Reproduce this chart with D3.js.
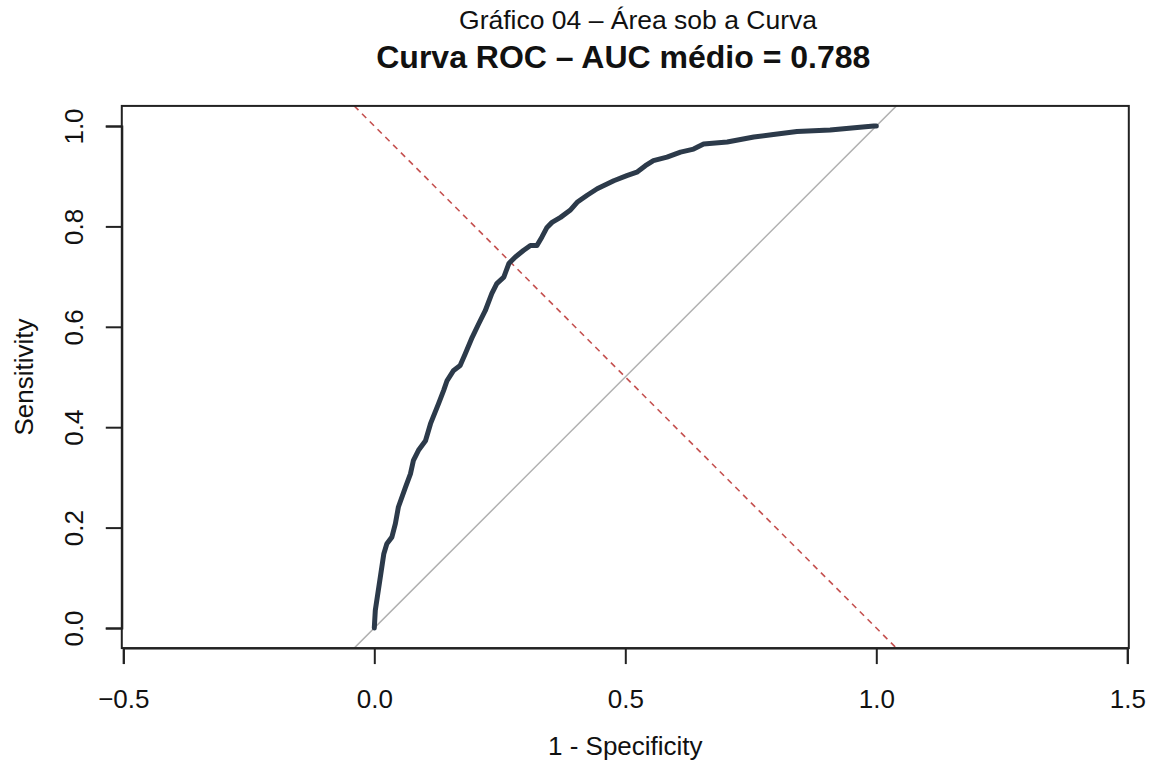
<!DOCTYPE html>
<html>
<head>
<meta charset="utf-8">
<script src="https://cdn.jsdelivr.net/npm/d3@7"></script>
<style>
  html, body { margin: 0; padding: 0; background: #fff; }
  svg { display: block; font-family: Arial, "Liberation Sans", sans-serif; }
</style>
</head>
<body>
<svg id="chart" width="1155" height="765"></svg>
<script>
// ---- data ----
const fpr = [0.000, 0.002, 0.011, 0.019, 0.025, 0.035, 0.042, 0.048, 0.062, 0.072, 0.078, 0.088, 0.102, 0.112, 0.128, 0.138,
             0.145, 0.158, 0.171, 0.181, 0.195, 0.208, 0.221, 0.234, 0.244, 0.258, 0.268, 0.281, 0.297, 0.311, 0.324, 0.334,
             0.344, 0.354, 0.371, 0.390, 0.404, 0.424, 0.444, 0.477, 0.503, 0.523, 0.540, 0.556, 0.583, 0.610, 0.636, 0.656,
             0.703, 0.756, 0.795, 0.842, 0.908, 0.962, 0.995, 1.000];
const tpr = [0.000, 0.035, 0.095, 0.148, 0.168, 0.181, 0.208, 0.241, 0.280, 0.307, 0.334, 0.354, 0.373, 0.407, 0.447, 0.473,
             0.493, 0.513, 0.523, 0.546, 0.579, 0.606, 0.632, 0.666, 0.686, 0.699, 0.726, 0.739, 0.752, 0.762, 0.762, 0.779,
             0.798, 0.808, 0.818, 0.832, 0.848, 0.862, 0.875, 0.891, 0.901, 0.908, 0.921, 0.931, 0.938, 0.948, 0.954, 0.964,
             0.968, 0.978, 0.983, 0.989, 0.992, 0.997, 1.000, 1.000];
const xTicks = [-0.5, 0.0, 0.5, 1.0, 1.5];
const yTicks = [0.0, 0.2, 0.4, 0.6, 0.8, 1.0];
const xLim = [-0.503, 1.503];
const yLim = [-0.04, 1.04];
const diagRange = [-0.04, 1.04];
const title1 = "Gráfico 04 – Área sob a Curva";
const title2 = "Curva ROC – AUC médio = 0.788";
const xLabel = "1 - Specificity";
const yLabel = "Sensitivity";

// ---- scales ----
const svg = d3.select("#chart");
const x = d3.scaleLinear().domain([-0.5, 1.5]).range([123.3, 1127.3]);
const y = d3.scaleLinear().domain([0, 1]).range([628, 126]);
const tickFmt = d3.format(".1f");

const boxL = x(xLim[0]), boxR = x(xLim[1]);
const boxT = y(yLim[1]), boxB = y(yLim[0]);

// clip
svg.append("defs").append("clipPath").attr("id", "clip")
  .append("rect").attr("x", boxL).attr("y", boxT).attr("width", boxR - boxL).attr("height", boxB - boxT);

const plot = svg.append("g").attr("clip-path", "url(#clip)");

// chance diagonal
plot.append("line")
  .attr("x1", x(diagRange[0])).attr("y1", y(diagRange[0]))
  .attr("x2", x(diagRange[1])).attr("y2", y(diagRange[1]))
  .attr("stroke", "#b0b0b0").attr("stroke-width", 1.5);

// red dashed anti-diagonal
plot.append("line")
  .attr("x1", x(diagRange[0])).attr("y1", y(diagRange[1]))
  .attr("x2", x(diagRange[1])).attr("y2", y(diagRange[0]))
  .attr("stroke", "#c4504f").attr("stroke-width", 1.6)
  .attr("stroke-dasharray", "6,5");

// ROC curve
const pts = fpr.map((v, i) => [v, tpr[i]]);
plot.append("path")
  .datum(pts)
  .attr("fill", "none")
  .attr("stroke", "#2c3a4a")
  .attr("stroke-width", 5)
  .attr("stroke-linejoin", "round")
  .attr("stroke-linecap", "round")
  .attr("d", d3.line().x(d => x(d[0])).y(d => y(d[1])));

// box
svg.append("rect")
  .attr("x", boxL).attr("y", boxT).attr("width", boxR - boxL).attr("height", boxB - boxT)
  .attr("fill", "none").attr("stroke", "#222").attr("stroke-width", 2);

// x axis
const xAxis = svg.append("g").attr("transform", `translate(0,${boxB})`)
  .call(d3.axisBottom(x).tickValues(xTicks).tickFormat(tickFmt).tickSize(16));
xAxis.select(".domain").attr("stroke", "#222").attr("stroke-width", 2);
xAxis.selectAll(".tick line").attr("stroke", "#222").attr("stroke-width", 2);
xAxis.selectAll(".tick text").attr("font-size", 26).attr("fill", "#111")
  .attr("font-family", "Arial, 'Liberation Sans', sans-serif")
  .attr("dy", null).attr("y", 708 - boxB);

// y axis
const yAxis = svg.append("g").attr("transform", `translate(${boxL},0)`)
  .call(d3.axisLeft(y).tickValues(yTicks).tickFormat(tickFmt).tickSize(16));
yAxis.select(".domain").attr("stroke", "#222").attr("stroke-width", 2);
yAxis.selectAll(".tick line").attr("stroke", "#222").attr("stroke-width", 2);
yAxis.selectAll(".tick text")
  .attr("font-size", 26).attr("fill", "#111")
  .attr("font-family", "Arial, 'Liberation Sans', sans-serif")
  .attr("x", null).attr("dy", null)
  .attr("text-anchor", "middle")
  .attr("transform", `translate(${83 - boxL},0) rotate(-90)`);

// titles
svg.append("text").attr("x", 638).attr("y", 29).attr("text-anchor", "middle")
  .attr("font-size", 26.5).attr("fill", "#111").text(title1);
svg.append("text").attr("x", (boxL + boxR) / 2 - 2).attr("y", 68).attr("text-anchor", "middle")
  .attr("font-size", 32).attr("font-weight", "bold").attr("fill", "#111").text(title2);

// axis labels
svg.append("text").attr("x", (boxL + boxR) / 2).attr("y", 755).attr("text-anchor", "middle")
  .attr("font-size", 26).attr("fill", "#111").text(xLabel);
svg.append("text").attr("transform", `translate(33,${(boxT + boxB) / 2}) rotate(-90)`)
  .attr("text-anchor", "middle").attr("font-size", 26).attr("fill", "#111").text(yLabel);
</script>
</body>
</html>
